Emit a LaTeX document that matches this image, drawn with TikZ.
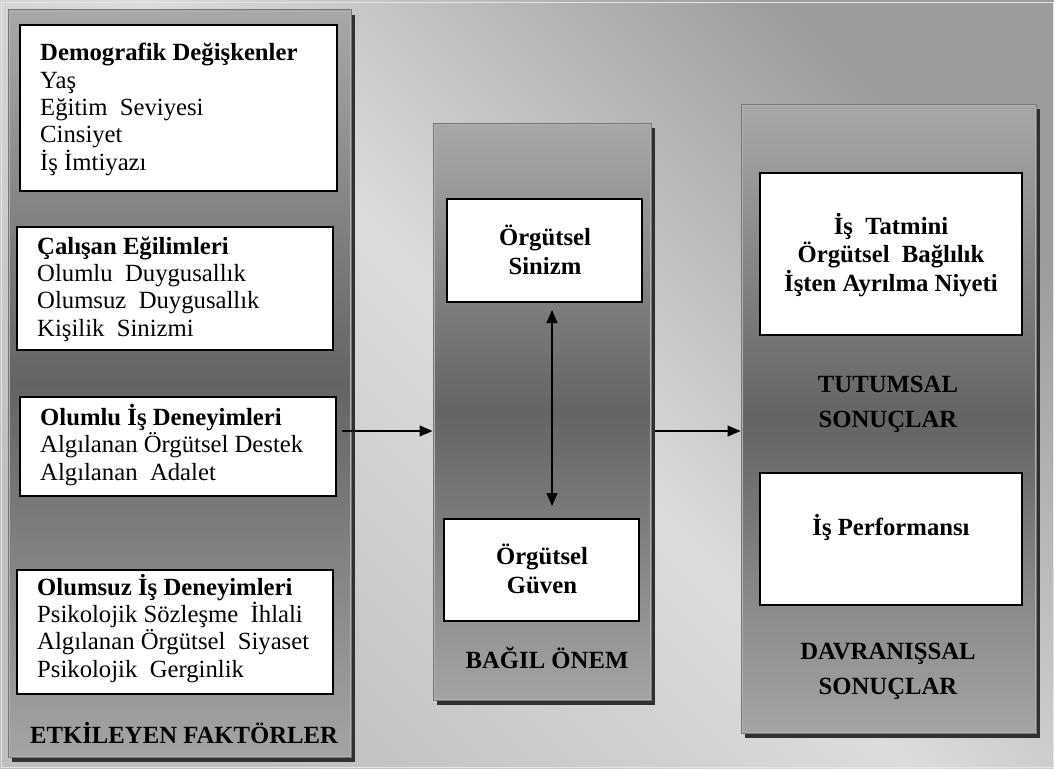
\documentclass[tikz,border=0pt]{standalone}
\usepackage{fontspec}
\setmainfont{Liberation Serif}
\usetikzlibrary{arrows.meta,shadows,fit}
\definecolor{bgA}{HTML}{9C9C9C}
\definecolor{bgB}{HTML}{DCDCDC}
\definecolor{bgC}{HTML}{BEBEBE}
\definecolor{bgEdge}{HTML}{E4E4E4}
\definecolor{pTop}{HTML}{A8A8A8}
\definecolor{pMid}{HTML}{646464}
\definecolor{pBot}{HTML}{A4A4A4}
\definecolor{pEdge}{HTML}{777777}
\definecolor{pHi}{HTML}{B0B0B0}
\definecolor{shadowc}{HTML}{303030}
\begin{document}
\begin{tikzpicture}[x=1bp,y=-1bp,
  panel/.style={rectangle, draw=pEdge, line width=1bp, top color=pTop, bottom color=pBot, middle color=pMid, inner sep=0pt,
    drop shadow={shadow xshift=4bp, shadow yshift=-5bp, fill=shadowc, opacity=1}},
  hiline/.style={draw=pHi, line width=0.8bp},
  wbox/.style={rectangle, draw=black, line width=1.4bp, fill=white, inner sep=0pt},
  ltext/.style={anchor=base west, align=left, inner sep=0pt, font=\fontsize{24.8}{27.4}\selectfont},
  ctext/.style={anchor=base, align=center, inner sep=0pt, font=\fontsize{24.8}{28.2}\selectfont\bfseries},
  lbl/.style={anchor=base, align=center, inner sep=0pt, font=\fontsize{24.8}{34.2}\selectfont\bfseries},
  arr/.style={-{Triangle[length=13bp,width=11bp]}, line width=1.2bp},
  darr/.style={{Triangle[length=13bp,width=11bp]}-{Triangle[length=13bp,width=11bp]}, line width=1.2bp}]
\useasboundingbox (0,0) rectangle (1054,769);
% background
\shade[top color=bgA, bottom color=bgC, middle color=bgB, shading angle=-45] (0,0) rectangle (1054,769);
\draw[bgEdge, line width=1bp] (1,3) rectangle (1053,767);
% panels
\node[panel, fit={(8,10) (351,757)}] (lp) {};
\draw[hiline] ([shift={(1.5bp,-1.5bp)}]lp.north west) rectangle ([shift={(-1.5bp,1.5bp)}]lp.south east);
\node[panel, fit={(433,123) (651,700)}] (mp) {};
\draw[hiline] ([shift={(1.5bp,-1.5bp)}]mp.north west) rectangle ([shift={(-1.5bp,1.5bp)}]mp.south east);
\node[panel, fit={(741,104) (1036,733)}] (rp) {};
\draw[hiline] ([shift={(1.5bp,-1.5bp)}]rp.north west) rectangle ([shift={(-1.5bp,1.5bp)}]rp.south east);
% left boxes
\node[wbox, fit={(20,25) (337,191)}] (b1) {};
\node[wbox, fit={(17,227) (333,350)}] (b2) {};
\node[wbox, fit={(20,397) (336,496)}] (b3) {};
\node[wbox, fit={(17,570) (333,694)}] (b4) {};
\node[ltext] (t1) at (40,170) {\textbf{Demografik Değişkenler}\\Yaş\\Eğitim\ \ Seviyesi\\Cinsiyet\\İş İmtiyazı};
\node[ltext] (t2) at (37,336) {\textbf{Çalışan Eğilimleri}\\Olumlu\ \ Duygusallık\\Olumsuz\ \ Duygusallık\\Kişilik\ \ Sinizmi};
\node[ltext] (t3) at (40,480) {\textbf{Olumlu İş Deneyimleri}\\Algılanan Örgütsel Destek\\Algılanan\ \ Adalet};
\node[ltext] (t4) at (37,677) {\textbf{Olumsuz İş Deneyimleri}\\Psikolojik Sözleşme\ \ İhlali\\Algılanan Örgütsel\ \ Siyaset\\Psikolojik\ \ Gerginlik};
\node[lbl, anchor=base west] (l1) at (30,743) {ETKİLEYEN FAKTÖRLER};
% middle boxes
\node[wbox, fit={(447,199) (642,302)}] (s1) {};
\node[wbox, fit={(444,519) (639,621)}] (s2) {};
\node[ctext] (s1t) at (545,274) {Örgütsel\\Sinizm};
\node[ctext] (s2t) at (542,593) {Örgütsel\\Güven};
\node[lbl] (l2) at (547,668) {BAĞIL ÖNEM};
% right boxes
\node[wbox, fit={(760,173) (1022,335)}] (r1) {};
\node[wbox, fit={(760,473) (1022,605)}] (r2) {};
\node[ctext] (r1t) at (891,291) {İş\ \ Tatmini\\Örgütsel\ \ Bağlılık\\İşten Ayrılma Niyeti};
\node[ctext] (r2t) at (891,535) {İş Performansı};
\node[lbl] (l3) at (888,427) {TUTUMSAL\\SONUÇLAR};
\node[lbl] (l4) at (888,694) {DAVRANIŞSAL\\SONUÇLAR};
% connectors
\coordinate (a1s) at (342,431);
\draw[arr] (a1s) -- (a1s -| mp.west);
\coordinate (a2s) at (655,431);
\draw[arr] (a2s) -- (a2s -| rp.west);
\coordinate (d1) at (552,310);
\coordinate (d2) at (552,506);
\draw[darr] (d1) -- (d2);
\end{tikzpicture}
\end{document}
